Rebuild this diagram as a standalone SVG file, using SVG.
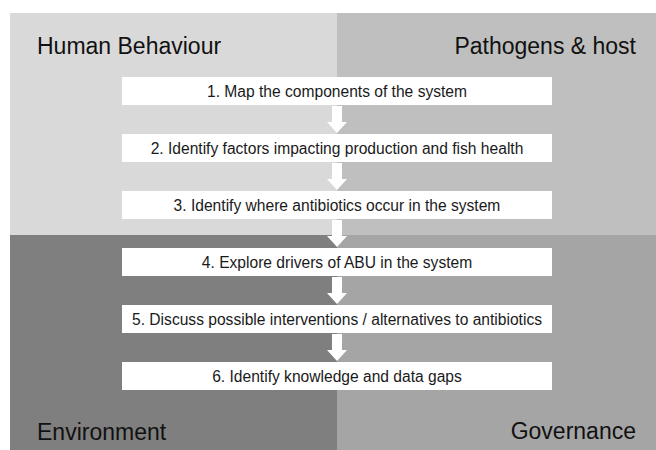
<svg xmlns="http://www.w3.org/2000/svg" width="656" height="450" viewBox="0 0 656 450">
<style>
.step{fill:#ffffff;}
.st{font-family:"Liberation Sans",Arial,sans-serif;font-size:15.6px;fill:#1a1a1a;text-anchor:middle;}
.ql{font-family:"Liberation Sans",Arial,sans-serif;font-size:23px;fill:#111111;}
.arr{fill:#ffffff;}
</style>
<defs>
<path id="arrow" d="M-5,0 H5 V16 H10 L0,27 L-10,16 H-5 Z"/>
</defs>
<rect x="0" y="0" width="656" height="450" fill="#ffffff"/>
<g id="quadrants">
<rect x="10" y="13" width="327" height="222" fill="#d9d9d9"/>
<rect x="337" y="13" width="319" height="222" fill="#bfbfbf"/>
<rect x="10" y="235" width="327" height="215" fill="#7f7f7f"/>
<rect x="337" y="235" width="319" height="215" fill="#a5a5a5"/>
</g>
<g id="labels">
<text class="ql" x="37" y="54">Human Behaviour</text>
<text class="ql" x="636" y="54" text-anchor="end">Pathogens &amp; host</text>
<text class="ql" x="37" y="440">Environment</text>
<text class="ql" x="636" y="439" text-anchor="end">Governance</text>
</g>
<g id="connectors">
<use href="#arrow" class="arr" x="337" y="106"/>
<use href="#arrow" class="arr" x="337" y="163"/>
<use href="#arrow" class="arr" x="337" y="220"/>
<use href="#arrow" class="arr" x="337" y="277"/>
<use href="#arrow" class="arr" x="337" y="334"/>
</g>
<g id="step1"><rect class="step" x="122" y="77" width="430" height="28"/><text class="st" x="337" y="96.5">1. Map the components of the system</text></g>
<g id="step2"><rect class="step" x="122" y="134" width="430" height="28"/><text class="st" x="337" y="153.5">2. Identify factors impacting production and fish health</text></g>
<g id="step3"><rect class="step" x="122" y="191" width="430" height="28"/><text class="st" x="337" y="210.5">3. Identify where antibiotics occur in the system</text></g>
<g id="step4"><rect class="step" x="122" y="248" width="430" height="28"/><text class="st" x="337" y="267.5">4. Explore drivers of ABU in the system</text></g>
<g id="step5"><rect class="step" x="122" y="305" width="430" height="28"/><text class="st" x="337" y="324.5">5. Discuss possible interventions / alternatives to antibiotics</text></g>
<g id="step6"><rect class="step" x="122" y="362" width="430" height="28"/><text class="st" x="337" y="381.5">6. Identify knowledge and data gaps</text></g>
</svg>
